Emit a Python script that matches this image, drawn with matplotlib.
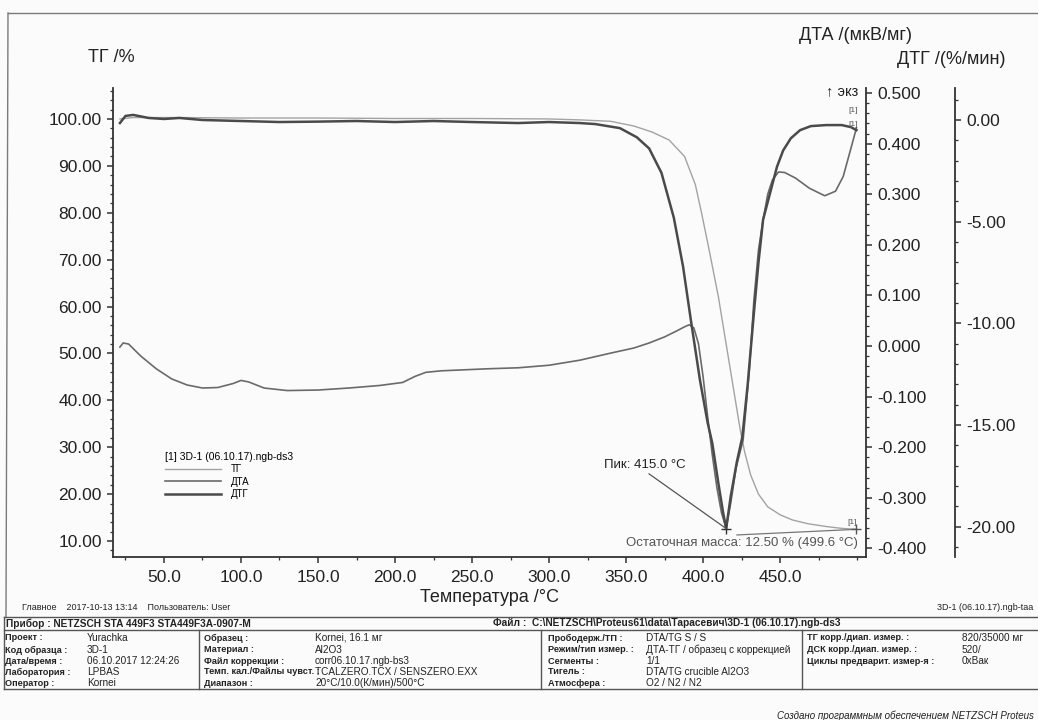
import matplotlib
matplotlib.use("Agg")
import matplotlib.pyplot as plt
from matplotlib.lines import Line2D
from matplotlib.ticker import MultipleLocator, FormatStrFormatter

plt.rcParams["font.family"] = ["Liberation Sans", "DejaVu Sans"]

W, H = 1038, 720

# ------------ данные -----------------------------------

tg_temp = [21.4, 30, 60, 100, 150, 200, 250, 300, 320, 340,
           355, 367, 378, 388, 395, 399, 404, 410, 415, 420,
           424, 427, 431, 436, 442, 450, 458, 468, 480, 490, 499.6]
tg_mass = [100.0, 100.3, 100.3, 100.2, 100.2, 100.1, 100.1, 100.0, 99.8, 99.5,
           98.5, 97.2, 95.5, 92.0, 86.0, 80.0, 72.0, 62.0, 52.0, 42.0,
           34.0, 29.0, 24.0, 20.0, 17.3, 15.6, 14.5, 13.7, 13.1, 12.7, 12.5]

dta_temp = [21.4, 23.5, 27, 35, 45, 55, 65, 75, 85, 95,
            100, 105, 115, 130, 150, 170, 190, 205, 213, 220,
            230, 245, 260, 280, 300, 320, 340, 355, 365, 375,
            383, 388, 391, 394, 397, 400, 403, 406, 409, 412,
            415, 418, 421.5, 426, 430, 433, 436, 439, 442, 445,
            449, 453, 460, 469, 479, 486, 491, 495.5, 499.6]
dta_val = [-0.002, 0.006, 0.004, -0.020, -0.045, -0.065, -0.077, -0.083, -0.082, -0.074,
           -0.068, -0.071, -0.083, -0.088, -0.087, -0.083, -0.078, -0.072, -0.060, -0.052,
           -0.049, -0.047, -0.045, -0.043, -0.038, -0.028, -0.014, -0.004, 0.006, 0.018,
           0.030, 0.038, 0.042, 0.036, 0.005, -0.060, -0.140, -0.215, -0.280, -0.330,
           -0.360, -0.310, -0.240, -0.186, -0.050, 0.090, 0.190, 0.250, 0.300, 0.328,
           0.344, 0.343, 0.332, 0.312, 0.297, 0.306, 0.335, 0.385, 0.431]

dtg_temp = [21.4, 25, 30, 40, 50, 60, 75, 100, 125, 150,
            175, 200, 225, 250, 280, 300, 320, 330, 346, 357,
            365, 373, 381, 387, 392, 398, 403, 406, 410, 413,
            415, 418, 422, 425.5, 429, 433, 436, 439, 443.5, 448,
            452, 457, 463, 470, 480, 490, 496, 499.6]
dtg_val = [-0.15, 0.20, 0.25, 0.10, 0.05, 0.10, 0.00, -0.05, -0.10, -0.08,
           -0.05, -0.10, -0.05, -0.10, -0.15, -0.10, -0.15, -0.20, -0.40, -0.85,
           -1.4, -2.6, -4.8, -7.2, -9.8, -12.8, -14.9, -15.9, -17.9, -19.3,
           -20.1, -18.5, -16.8, -15.6, -13.0, -9.5, -7.0, -4.9, -3.6, -2.3,
           -1.5, -0.9, -0.5, -0.3, -0.25, -0.25, -0.35, -0.5]

x_ticks = [50, 100, 150, 200, 250, 300, 350, 400, 450]
tg_ticks = [10, 20, 30, 40, 50, 60, 70, 80, 90, 100]
dta_ticks = [-0.4, -0.3, -0.2, -0.1, 0.0, 0.1, 0.2, 0.3, 0.4, 0.5]
dtg_ticks = [-20, -15, -10, -5, 0]

peak_temp = 415.0
residual_mass = 12.50
residual_temp = 499.6
residual_line_start = (422, 11.3)

# шапка-таблица отчёта
row0_left = "Прибор : NETZSCH STA 449F3 STA449F3A-0907-M"
row0_right = "Файл :  C:\\NETZSCH\\Proteus61\\data\\Тарасевич\\3D-1 (06.10.17).ngb-ds3"
col1_keys = ["Проект :", "Код образца :", "Дата/время :", "Лаборатория :", "Оператор :"]
col1_vals = ["Yurachka", "3D-1", "06.10.2017 12:24:26", "LPBAS", "Kornei"]
col2_keys = ["Образец :", "Материал :", "Файл коррекции :", "Темп. кал./Файлы чувст. :", "Диапазон :"]
col2_vals = ["Kornei, 16.1 мг", "Al2O3", "corr06.10.17.ngb-bs3", "TCALZERO.TCX / SENSZERO.EXX",
             "20°C/10.0(К/мин)/500°C"]
col3_keys = ["Прободерж./ТП :", "Режим/тип измер. :", "Сегменты :", "Тигель :", "Атмосфера :"]
col3_vals = ["DTA/TG S / S", "ДТА-ТГ / образец с коррекцией", "1/1", "DTA/TG crucible Al2O3",
             "O2 / N2 / N2"]
col4_keys = ["ТГ корр./диап. измер. :", "ДСК корр./диап. измер. :", "Циклы предварит. измер-я :"]
col4_vals = ["820/35000 мг", "520/", "0xВак"]


# ------------ утилиты -----------------

def fx(px):
    return px / W


def fy(py):
    return 1 - py / H


def ftext(x, y, s, **kw):
    kw.setdefault("color", "#222222")
    kw.setdefault("va", "center")
    fig.text(fx(x), fy(y), s, **kw)


def fline(xs, ys, **kw):
    kw.setdefault("color", "#7a7a7a")
    kw.setdefault("lw", 1.0)
    fig.add_artist(Line2D([fx(v) for v in xs], [fy(v) for v in ys],
                          transform=fig.transFigure, **kw))


# ------------ график -----------------

fig = plt.figure(figsize=(W / 100, H / 100), dpi=100)
fig.patch.set_facecolor("#fbfbfb")

left, right, top, bottom = 113, 866, 88, 557
ax = fig.add_axes([fx(left), fy(bottom), fx(right) - fx(left), fy(top) - fy(bottom)])
ax.set_facecolor("#fbfbfb")
ax2 = ax.twinx()
ax3 = ax.twinx()
ax3.spines["right"].set_position(("axes", (955 - left) / (right - left)))

ax.set_xlim(16.9, 505.8)
ax.set_ylim(6.6, 106.6)
ax2.set_ylim(-0.417, 0.510)
ax3.set_ylim(-21.50, 1.574)

spine_c = "#333333"
for a in (ax, ax2, ax3):
    for s in a.spines.values():
        s.set_visible(False)
        s.set_color(spine_c)
        s.set_linewidth(1.3)
ax.spines["left"].set_visible(True)
ax.spines["bottom"].set_visible(True)
ax2.spines["right"].set_visible(True)
ax3.spines["right"].set_visible(True)

ax.set_xticks(x_ticks)
ax.xaxis.set_minor_locator(MultipleLocator(25))
ax.xaxis.set_major_formatter(FormatStrFormatter("%.1f"))
ax.set_yticks(tg_ticks)
ax.yaxis.set_minor_locator(MultipleLocator(2))
ax.yaxis.set_major_formatter(FormatStrFormatter("%.2f"))
ax2.set_yticks(dta_ticks)
ax2.yaxis.set_minor_locator(MultipleLocator(0.02))
ax2.yaxis.set_major_formatter(FormatStrFormatter("%.3f"))
ax3.set_yticks(dtg_ticks)
ax3.yaxis.set_minor_locator(MultipleLocator(1))
ax3.yaxis.set_major_formatter(FormatStrFormatter("%.2f"))

for a, axis in ((ax, "x"), (ax, "y"), (ax2, "y"), (ax3, "y")):
    a.tick_params(axis=axis, which="major", direction="out", length=4, width=1.1,
                  color=spine_c, labelsize=12.5, labelcolor="#222222", pad=4)
    a.tick_params(axis=axis, which="minor", direction="out", length=2.5, width=0.9,
                  color=spine_c)
ax.tick_params(axis="x", which="major", pad=5)

ax.set_xlabel("Температура /°C", fontsize=13, color="#222222", labelpad=3)

l_tg, = ax.plot(tg_temp, tg_mass, color="#a3a3a3", lw=1.0, label="ТГ")
l_dta, = ax2.plot(dta_temp, dta_val, color="#6a6a6a", lw=1.2, label="ДТА")
l_dtg, = ax3.plot(dtg_temp, dtg_val, color="#4a4a4a", lw=1.8, label="ДТГ")

leg = ax.legend(handles=[l_tg, l_dta, l_dtg], title="[1] 3D-1 (06.10.17).ngb-ds3",
                loc="upper left", bbox_to_anchor=(fx(160), fy(447)),
                bbox_transform=fig.transFigure, frameon=False, fontsize=7,
                title_fontsize=7.5, handlelength=5.8, handletextpad=1.0,
                labelspacing=0.25, borderpad=0, alignment="left")

# пик
peak_dtg = min(dtg_val)
ax3.plot([peak_temp], [peak_dtg], marker="+", ms=7, mew=1.0, color="#333333")
ax3.annotate(f"Пик: {peak_temp:.1f} °C", xy=(peak_temp, peak_dtg),
             xytext=(645, H - 465), textcoords="figure pixels",
             ha="center", va="center", fontsize=9.5, color="#222222",
             arrowprops=dict(arrowstyle="-", color="#555555", lw=0.9,
                             shrinkA=0, shrinkB=0, relpos=(0.5, 0.0)))

# остаточная масса
ax.plot([residual_line_start[0], residual_temp], [residual_line_start[1], residual_mass],
        color="#777777", lw=0.9)
ax.plot([residual_temp], [residual_mass], marker="+", ms=7, mew=1.0, color="#555555")
ftext(858, 543, f"Остаточная масса: {residual_mass:.2f} % ({residual_temp:.1f} °C)",
      ha="right", fontsize=9.5, color="#555555")

# метки [1]
ftext(853, 110, "[1]", ha="center", fontsize=6, color="#555555")
ftext(853, 124, "[1]", ha="center", fontsize=6, color="#555555")
ftext(852, 522, "[1]", ha="center", fontsize=6, color="#555555")

# подписи осей
ftext(88, 57, "ТГ /%", ha="left", fontsize=13)
ftext(799, 35, "ДТА /(мкВ/мг)", ha="left", fontsize=13)
ftext(897, 59, "ДТГ /(%/мин)", ha="left", fontsize=13)
ftext(826, 91, "↑ экз", ha="left", fontsize=10.5)

# ------------ рамка и таблица -----------------

fline([8, W], [13, 13])
fline([8, 6], [13, 617])
fline([4, W], [617, 617], color="#555555")
fline([4, W], [630, 630], color="#555555")
fline([4, W], [689, 689], color="#555555")
fline([4, 4], [617, 689], color="#555555")
for xs in (199, 541, 802):
    fline([xs, xs], [630, 689], color="#555555")

ftext(22, 608, "Главное    2017-10-13 13:14    Пользователь: User", fontsize=6.5)
ftext(1033, 607, "3D-1 (06.10.17).ngb-taa", ha="right", fontsize=6.5)

ftext(6, 623.5, row0_left, fontsize=7.3, weight="bold")
ftext(493, 623.5, row0_right, fontsize=7.3, weight="bold")

row_y = [638, 650, 661, 672, 683]
cols = [(5, 87, col1_keys, col1_vals), (204, 315, col2_keys, col2_vals),
        (548, 646, col3_keys, col3_vals), (807, 962, col4_keys, col4_vals)]
for kx, vx, keys, vals in cols:
    for y, k, v in zip(row_y, keys, vals):
        ftext(kx, y, k, fontsize=6.6, weight="bold")
        ftext(vx, y, v, fontsize=7.2)

ftext(1034, 716, "Создано программным обеспечением NETZSCH Proteus", fontsize=7.0,
      style="italic", ha="right")

fig.savefig("out.png", dpi=100, facecolor=fig.get_facecolor())
